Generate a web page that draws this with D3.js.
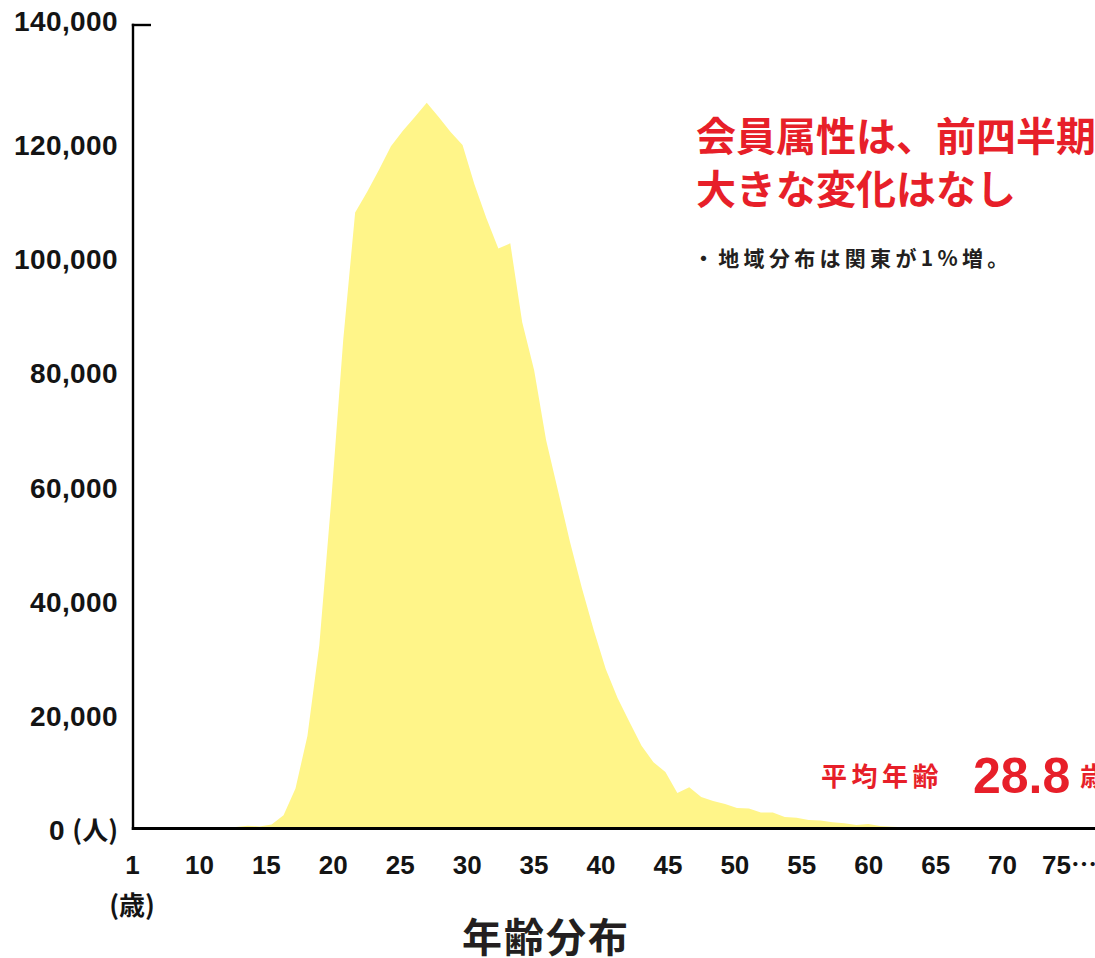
<!DOCTYPE html>
<html lang="ja">
<head>
<meta charset="utf-8">
<title>年齢分布</title>
<script src="https://cdn.jsdelivr.net/npm/d3@7/dist/d3.min.js"></script>
<style>
  html, body { margin: 0; padding: 0; background: #ffffff; }
  svg { display: block; }
</style>
</head>
<body>
<svg id="chart" width="1095" height="958"></svg>
<script>
// Member counts by age (people)
const ages = d3.range(10, 76);
const members = [
  0, 280, 500, 350, 700, 2300, 7000, 16200, 32100, 57500,            // 10-19
  85500, 107800, 111400, 115300, 119400, 122100, 124500, 127000, 124500, 121900, // 20-29
  119600, 112700, 106800, 101500, 102400, 88600, 80200, 68000, 59100, 50200,     // 30-39
  42100, 34700, 27900, 22800, 18600, 14500, 11600, 9900, 6200, 7200,             // 40-49
  5500, 4800, 4300, 3600, 3500, 2800, 2800, 2000, 1900, 1500,                   // 50-59
  1400, 1100, 900, 600, 800, 450, 300, 200, 100, 60,                            // 60-69
  40, 30, 20, 10, 10, 0                                                         // 70-75
];

// Axis labels
const yTicks = [0, 20000, 40000, 60000, 80000, 100000, 120000, 140000];
const xTickLabels = ["1", "10", "15", "20", "25", "30", "35", "40", "45", "50", "55", "60", "65", "70", "75…"];

// Annotations
const headline = ["会員属性は、前四半期", "大きな変化はなし"];
const note = "・地域分布は関東が1%増。";
const avgLabel = "平均年齢";
const avgAge = 28.8;

const RED = "#e71f29";
const INK = "#141414";
const JP = "'Noto Sans CJK JP', 'Noto Sans', sans-serif";
const NUM = "'Liberation Sans', Arial, Helvetica, sans-serif";

const svg = d3.select("#chart");
const plot = { left: 133, right: 1095, top: 25, bottom: 828.5 };

const y = d3.scaleLinear().domain([0, 140000]).range([plot.bottom, 28.5]);
const xSeries = d3.scaleLinear().domain([2.3, 83]).range([132, 1095]);
const xLabel = d3.scalePoint().domain(xTickLabels).range([132, 1069]);

const data = ages.map((a, i) => ({ age: a, value: members[i] }));

// Filled distribution
const area = d3.area()
  .x(d => xSeries(d.age))
  .y0(y(0))
  .y1(d => y(d.value));

svg.append("path")
  .datum(data)
  .attr("d", area)
  .attr("fill", "#fff589");

// Y axis
const yAxis = svg.append("g")
  .attr("transform", `translate(${plot.left},0)`)
  .call(d3.axisLeft(y).tickValues(yTicks).tickSize(0).tickPadding(15)
    .tickFormat(d => d === 0 ? "" : d3.format(",")(d)));
yAxis.select(".domain").remove();
yAxis.selectAll(".tick text")
  .attr("fill", INK)
  .attr("font-family", NUM)
  .attr("font-weight", 700)
  .attr("font-size", 28)
  .attr("letter-spacing", 0.4)
  .attr("dy", d => d === 140000 ? "0.07em" : "0.41em");

// Zero label with unit
const zeroLabel = svg.append("text")
  .attr("x", 118)
  .attr("y", y(0) + 11)
  .attr("text-anchor", "end")
  .attr("fill", INK)
  .attr("font-weight", 700);
zeroLabel.append("tspan").attr("font-family", NUM).attr("font-size", 28).text("0 ");
zeroLabel.append("tspan").attr("font-family", JP).attr("font-size", 26).text("(人)");

// Axis lines
svg.append("line")
  .attr("x1", plot.left).attr("x2", plot.left)
  .attr("y1", plot.top - 1.2).attr("y2", plot.bottom + 1.5)
  .attr("stroke", "#000").attr("stroke-width", 2.4);
svg.append("line")
  .attr("x1", plot.left - 1.2).attr("x2", 151)
  .attr("y1", plot.top).attr("y2", plot.top)
  .attr("stroke", "#000").attr("stroke-width", 2.4);
svg.append("line")
  .attr("x1", plot.left - 1.2).attr("x2", plot.right)
  .attr("y1", plot.bottom).attr("y2", plot.bottom)
  .attr("stroke", "#000").attr("stroke-width", 3);

// X axis labels
const xAxis = svg.append("g")
  .attr("transform", `translate(0,${plot.bottom})`)
  .call(d3.axisBottom(xLabel).tickSize(0).tickPadding(27));
xAxis.select(".domain").remove();
xAxis.selectAll(".tick text")
  .attr("fill", INK)
  .attr("font-family", NUM)
  .attr("font-weight", 700)
  .attr("font-size", 26);

// Ellipsis on the open-ended last label uses the Japanese font's centred dots
xAxis.selectAll(".tick text").filter(d => d.endsWith("…")).each(function (d) {
  const t = d3.select(this);
  t.text(d.slice(0, -1));
  t.append("tspan").attr("font-family", JP).text("…");
});

// Age unit
svg.append("text")
  .attr("x", 132).attr("y", 915)
  .attr("text-anchor", "middle")
  .attr("fill", INK)
  .attr("font-family", JP).attr("font-weight", 700).attr("font-size", 26)
  .text("(歳)");

// Chart title
svg.append("text")
  .attr("x", 546).attr("y", 952)
  .attr("text-anchor", "middle")
  .attr("fill", "#231f20")
  .attr("font-family", JP).attr("font-weight", 700).attr("font-size", 40)
  .attr("letter-spacing", 2)
  .text("年齢分布");

// Headline
svg.append("g").selectAll("text")
  .data(headline)
  .join("text")
  .attr("x", 696)
  .attr("y", (d, i) => 151 + i * 53)
  .attr("fill", RED)
  .attr("font-family", JP).attr("font-weight", 700).attr("font-size", 40)
  .text(d => d);

svg.append("text")
  .attr("x", 693).attr("y", 266)
  .attr("fill", "#231f20")
  .attr("font-family", JP).attr("font-weight", 700).attr("font-size", 21)
  .attr("letter-spacing", 4.3)
  .text(note);

// Average age
svg.append("text")
  .attr("x", 821).attr("y", 786)
  .attr("fill", RED)
  .attr("font-family", JP).attr("font-weight", 700).attr("font-size", 26)
  .attr("letter-spacing", 4.5)
  .text(avgLabel);
svg.append("text")
  .attr("x", 973).attr("y", 793)
  .attr("fill", RED)
  .attr("font-family", NUM).attr("font-weight", 700).attr("font-size", 50)
  .text(avgAge.toFixed(1));
svg.append("text")
  .attr("x", 1080).attr("y", 786)
  .attr("fill", RED)
  .attr("font-family", JP).attr("font-weight", 700).attr("font-size", 26)
  .text("歳");
</script>
</body>
</html>
